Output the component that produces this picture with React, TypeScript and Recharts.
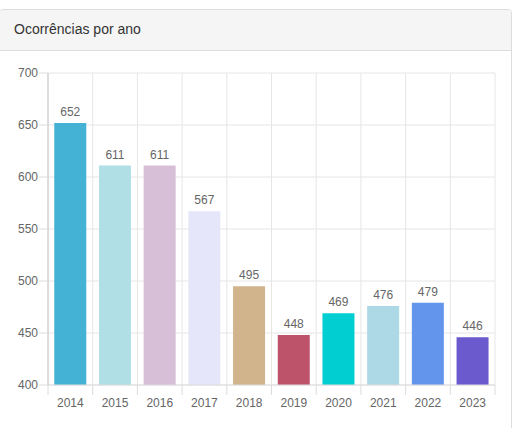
import { BarChart, Bar, XAxis, YAxis, CartesianGrid, LabelList, Cell } from "recharts";

const years = ["2014", "2015", "2016", "2017", "2018", "2019", "2020", "2021", "2022", "2023"];
const counts = [652, 611, 611, 567, 495, 448, 469, 476, 479, 446];
const barColors = [
    "#44b2d5",
    "#b0e0e6",
    "#d8bfd8",
    "#e6e6fa",
    "#d2b48c",
    "#bd536a",
    "#00ced1",
    "#add8e6",
    "#6495ed",
    "#6a5acd"
];
const yTicks = [400, 450, 500, 550, 600, 650, 700];

const FONT = "'Liberation Sans', Arial, sans-serif";

const XTick = (props: any) => {
    const { x, y, payload, index, visibleTicksCount } = props;
    const band = 447 / years.length;
    const left = x - band / 2;
    const top = y - 8;
    return (
        <g>
            <line x1={left} y1={top} x2={left} y2={top + 10} stroke="#dcdcdc" />
            {index === visibleTicksCount - 1 && (
                <line x1={left + band} y1={top} x2={left + band} y2={top + 10} stroke="#dcdcdc" />
            )}
            <text x={x} y={top + 22} textAnchor="middle" fill="#666" fontSize={12} fontFamily={FONT}>
                {payload.value}
            </text>
        </g>
    );
};

const App = () => {

    const data = years.map((year, i) => ({
        year,
        total: counts[i]
    }));

    return (
        <div style={{ position: "absolute", left: 0, top: 0, width: 514, height: 428, overflow: "hidden", background: "#fff" }}>

            <div style={{
                position: "absolute",
                left: -1,
                top: 9,
                width: 513,
                height: 440,
                border: "1px solid #dddddd",
                borderRadius: 4,
                boxSizing: "border-box",
                overflow: "hidden"
            }}>
                <div style={{
                    height: 41,
                    background: "#f5f5f5",
                    borderBottom: "1px solid #dddddd",
                    boxSizing: "border-box",
                    padding: "11px 0 0 14px",
                    fontFamily: FONT,
                    fontSize: 14,
                    color: "#333"
                }}>
                    Ocorrências por ano
                </div>
            </div>

            <div style={{ position: "absolute", left: 0, top: 51 }}>
                <BarChart
                    width={514}
                    height={377}
                    data={data}
                    margin={{ top: 22, right: 19, bottom: 13, left: 0 }}
                    barCategoryGap="14%"
                >
                    <CartesianGrid
                        stroke="#e6e6e6"
                        verticalCoordinatesGenerator={({ offset }: any) =>
                            years.map((_, i) => offset.left + (i + 1) * offset.width / years.length)
                        }
                    />
                    <XAxis
                        dataKey="year"
                        height={30}
                        axisLine={{ stroke: "#dcdcdc" }}
                        tickLine={false}
                        tick={<XTick />}
                        interval={0}
                    />
                    <YAxis
                        width={48}
                        domain={[400, 700]}
                        ticks={yTicks}
                        allowDataOverflow
                        axisLine={{ stroke: "#bbbbbb" }}
                        tickLine={{ stroke: "#dcdcdc" }}
                        tickSize={9}
                        tickMargin={1}
                        tick={{ fill: "#666", fontSize: 12, fontFamily: FONT }}
                    />
                    <Bar dataKey="total" isAnimationActive={false}>
                        {data.map((d, i) => (
                            <Cell key={d.year} fill={barColors[i]} />
                        ))}
                        <LabelList
                            dataKey="total"
                            position="top"
                            offset={7}
                            fill="#666"
                            fontSize={12}
                            fontFamily={FONT}
                        />
                    </Bar>
                </BarChart>
            </div>

        </div>
    );
};

export default App;
